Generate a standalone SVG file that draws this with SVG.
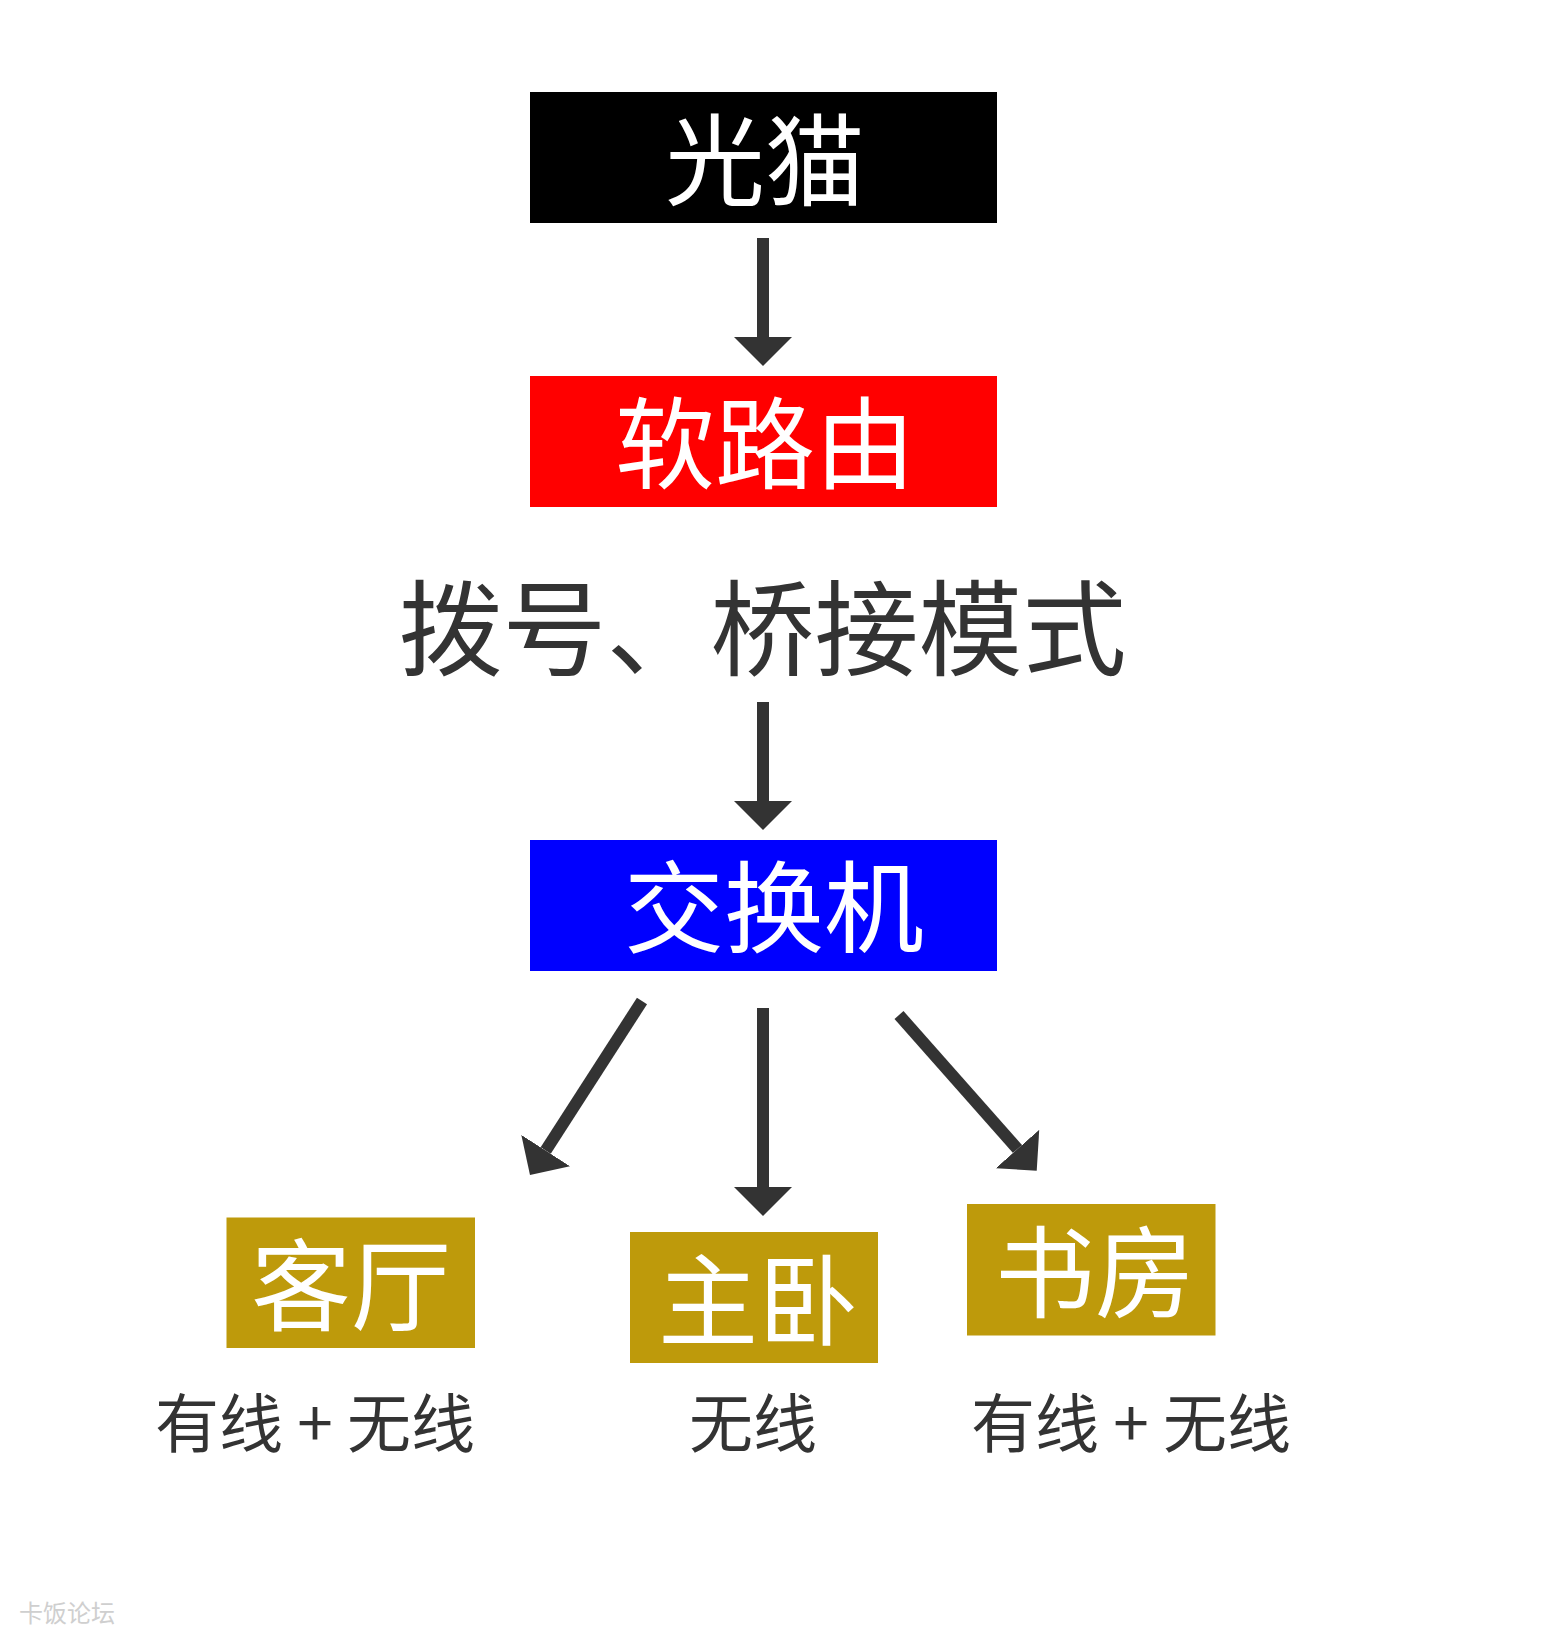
<svg xmlns="http://www.w3.org/2000/svg" width="1557" height="1637" viewBox="0 0 1557 1637">
  <style>
    .t { font-family: "Noto Sans CJK SC", "Noto Sans", sans-serif; text-anchor: middle; }
    .w { fill: #ffffff; font-size: 100px; }
    .d { fill: #333333; }
    .lbl { font-size: 64px; }
    .room { fill: #be9a0b; }
    .arrow { stroke: #333333; stroke-width: 12; fill: none; marker-end: url(#ah); }
  </style>
  <defs>
    <marker id="ah" viewBox="0 0 29 58" refX="0" refY="29" markerWidth="29" markerHeight="58" markerUnits="userSpaceOnUse" orient="auto">
      <path d="M0,0 L29,29 L0,58 Z" fill="#333333"/>
    </marker>
  </defs>
  <rect width="1557" height="1637" fill="#ffffff"/>

  <g id="node-guangmao">
    <rect x="530" y="92" width="467" height="131" fill="#000000"/>
    <text class="t w" x="765" y="197.5">光猫</text>
  </g>
  <g id="node-ruanluyou">
    <rect x="530" y="376" width="467" height="131" fill="#ff0000"/>
    <text class="t w" x="765" y="481">软路由</text>
  </g>
  <g id="label-mode">
    <text class="t d" x="762.5" y="668" font-size="104">拨号、桥接模式</text>
  </g>
  <g id="node-jiaohuanji">
    <rect x="530" y="840" width="467" height="131" fill="#0000ff"/>
    <text class="t w" x="774" y="945">交换机</text>
  </g>
  <g id="node-keting">
    <rect class="room" x="226.5" y="1217.5" width="248.5" height="130.5"/>
    <text class="t w" x="351" y="1323">客厅</text>
    <text class="t d lbl" x="315" y="1447">有线 + 无线</text>
  </g>
  <g id="node-zhuwo">
    <rect class="room" x="630" y="1232" width="248" height="131"/>
    <text class="t w" x="758" y="1338">主卧</text>
    <text class="t d lbl" x="753" y="1447">无线</text>
  </g>
  <g id="node-shufang">
    <rect class="room" x="967" y="1204" width="248.5" height="131.5"/>
    <text class="t w" x="1095" y="1309.5">书房</text>
    <text class="t d lbl" x="1131" y="1447">有线 + 无线</text>
  </g>

  <g id="connectors">
    <line class="arrow" x1="763" y1="238" x2="763" y2="337"/>
    <line class="arrow" x1="763" y1="702" x2="763" y2="801"/>
    <line class="arrow" x1="642" y1="1001" x2="545.7" y2="1150.6"/>
    <line class="arrow" x1="763" y1="1008" x2="763" y2="1187"/>
    <line class="arrow" x1="899" y1="1015" x2="1017.5" y2="1149"/>
  </g>

  <text class="t" x="67" y="1622" font-size="24" fill="#cfcfcf">卡饭论坛</text>
</svg>
